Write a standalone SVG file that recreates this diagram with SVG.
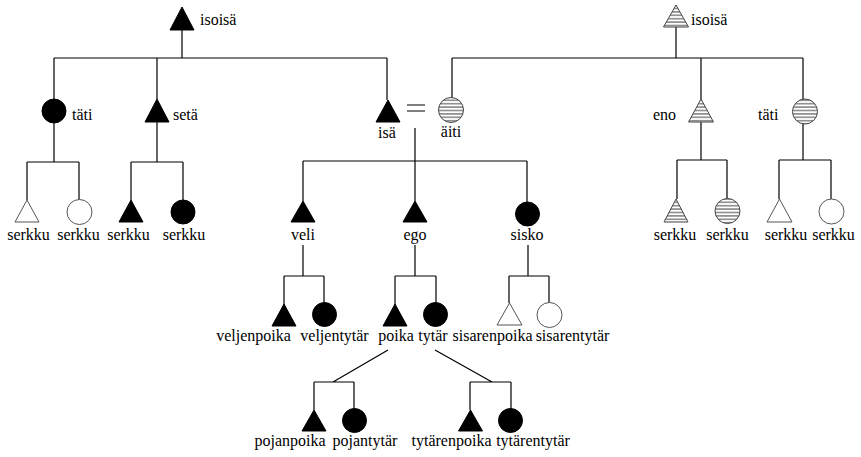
<svg xmlns="http://www.w3.org/2000/svg" width="861" height="457" viewBox="0 0 861 457">
<style>
text{font-family:"Liberation Serif","Times New Roman",serif;font-size:16px;fill:#000}
.c{text-anchor:middle}
.ln{stroke:#000;stroke-width:1.2;fill:none}
.f{fill:#000;stroke:#000;stroke-width:1}
.o{fill:#fff;stroke:#555;stroke-width:1}
.h{fill:url(#hatch);stroke:#444;stroke-width:1}
</style>
<defs>
<pattern id="hatch" patternUnits="userSpaceOnUse" width="8" height="3.4">
<rect width="8" height="3.4" fill="#fff"/>
<line x1="0" y1="1.7" x2="8" y2="1.7" stroke="#444" stroke-width="1"/>
</pattern>
</defs>
<g id="connectors" class="ln">
<path d="M182 30V58M54 58H387M54 58V99M157 58V99M387 58V100"/>
<path d="M54 123V162M27 162H79M27 162V200M79 162V200"/>
<path d="M157 122V162M131 162H183M131 162V200M183 162V200"/>
<path d="M415 128V161M303 161H527M303 161V201M415 161V201M527 161V202"/>
<path d="M303 245V276M284 276H324M284 276V305M324 276V303"/>
<path d="M415 245V276M395 276H436M395 276V305M436 276V303"/>
<path d="M528 245V276M509 276H549M509 276V303M549 276V303"/>
<path d="M388 350L333 382M314 382H354M314 382V410M354 382V409"/>
<path d="M435 350L492 382M470 382H511M470 382V410M511 382V409"/>
<path d="M676 27V58M452 58H803M452 58V98M701 58V99M803 58V99"/>
<path d="M701 122V160M677 160H727M677 160V199M727 160V199"/>
<path d="M803 124V160M779 160H831M779 160V199M831 160V199"/>
</g>
<g id="isoisa-l"><polygon class="f" points="182,7 170,30 194,30"/><text x="200" y="25">isoisä</text></g>
<g id="tati-l"><circle class="f" cx="54" cy="111" r="12"/><text x="72" y="120">täti</text></g>
<g id="seta"><polygon class="f" points="157,99 145,122 169,122"/><text x="173" y="120">setä</text></g>
<g id="isa"><polygon class="f" points="388,100 376,122 400,122"/><text class="c" x="387" y="138">isä</text></g>
<g id="marriage"><path d="M407 105H425M407 111H425" stroke="#000" stroke-width="1.2"/></g>
<g id="aiti"><circle class="h" cx="451" cy="110" r="12.5"/><text class="c" x="451" y="137">äiti</text></g>
<g id="s1"><polygon class="o" points="27,200 15,222 39,222"/><text class="c" x="28.5" y="240">serkku</text></g>
<g id="s2"><circle class="o" cx="79.5" cy="212" r="12.5"/><text class="c" x="78.5" y="240">serkku</text></g>
<g id="s3"><polygon class="f" points="131,200 119,222 143,222"/><text class="c" x="128.5" y="240">serkku</text></g>
<g id="s4"><circle class="f" cx="183" cy="212" r="12"/><text class="c" x="184" y="240">serkku</text></g>
<g id="veli"><polygon class="f" points="303,201 291,222 315,222"/><text class="c" x="303" y="240">veli</text></g>
<g id="ego"><polygon class="f" points="415,201 403,222 427,222"/><text class="c" x="415" y="240">ego</text></g>
<g id="sisko"><circle class="f" cx="527.5" cy="214" r="12"/><text class="c" x="527" y="240">sisko</text></g>
<g id="veljenpoika"><polygon class="f" points="284,304 272,326 296,326"/><text class="c" x="253.5" y="341">veljenpoika</text></g>
<g id="veljentytar"><circle class="f" cx="324.5" cy="314.5" r="12"/><text class="c" x="334.5" y="341">veljentytär</text></g>
<g id="poika"><polygon class="f" points="395,304 383,326 407,326"/><text class="c" x="396" y="341">poika</text></g>
<g id="tytar"><circle class="f" cx="435.5" cy="314.5" r="12"/><text class="c" x="433" y="341">tytär</text></g>
<g id="sisarenpoika"><polygon class="o" points="509.5,303 497,325 522,325"/><text class="c" x="492.5" y="341">sisarenpoika</text></g>
<g id="sisarentytar"><circle class="o" cx="549.5" cy="315" r="12.5"/><text class="c" x="572.5" y="341">sisarentytär</text></g>
<g id="pojanpoika"><polygon class="f" points="314,410 302,431 326,431"/><text class="c" x="290" y="446">pojanpoika</text></g>
<g id="pojantytar"><circle class="f" cx="354.5" cy="420.5" r="12"/><text class="c" x="365" y="446">pojantytär</text></g>
<g id="tytarenpoika"><polygon class="f" points="470.5,410 458.5,431 482.5,431"/><text class="c" x="451.5" y="446">tytärenpoika</text></g>
<g id="tytarentytar"><circle class="f" cx="510.5" cy="420.5" r="12"/><text class="c" x="533" y="446">tytärentytär</text></g>
<g id="isoisa-r"><polygon class="h" points="676,5 663.5,27 688.5,27"/><text x="691" y="25">isoisä</text></g>
<g id="eno"><polygon class="h" points="701,99 688.5,122 713.5,122"/><text x="653" y="120">eno</text></g>
<g id="tati-r"><circle class="h" cx="805" cy="111.5" r="12.5"/><text x="758" y="120">täti</text></g>
<g id="s5"><polygon class="h" points="676,199 664,222 688,222"/><text class="c" x="675" y="240">serkku</text></g>
<g id="s6"><circle class="h" cx="727.5" cy="211" r="12.5"/><text class="c" x="727.5" y="240">serkku</text></g>
<g id="s7"><polygon class="o" points="779.5,199 767,222 792,222"/><text class="c" x="786" y="240">serkku</text></g>
<g id="s8"><circle class="o" cx="831.5" cy="211.5" r="12.5"/><text class="c" x="833.5" y="240">serkku</text></g>
</svg>
